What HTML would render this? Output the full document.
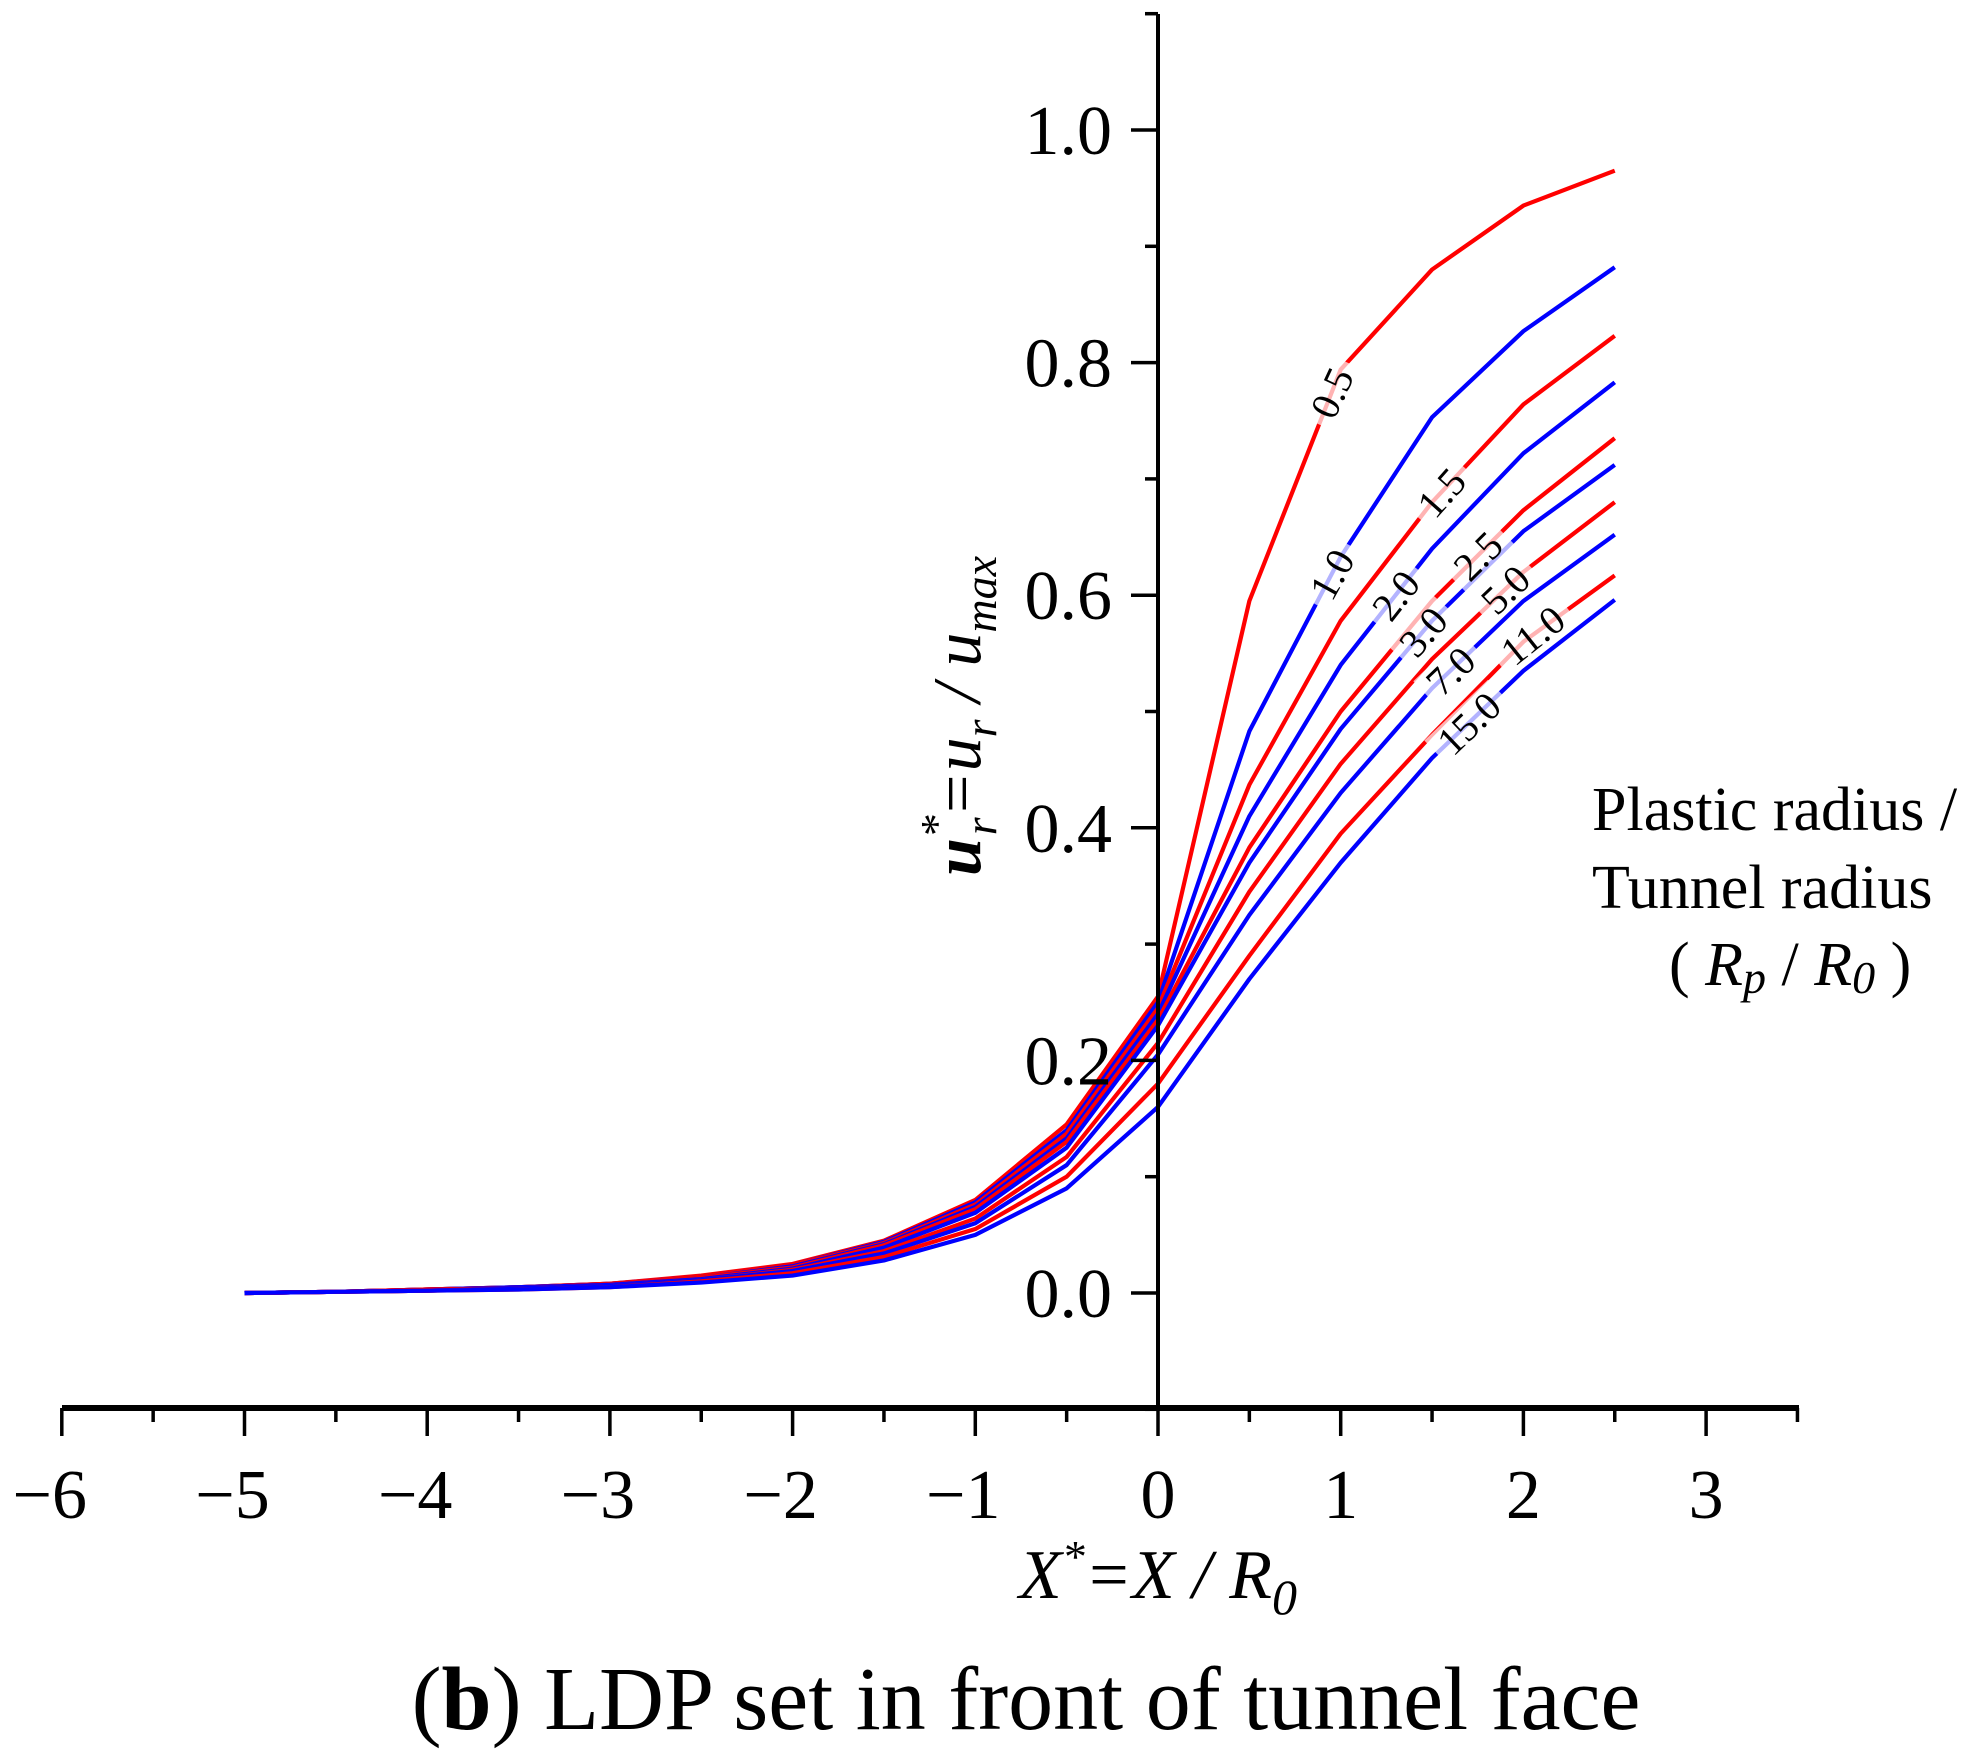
<!DOCTYPE html>
<html><head><meta charset="utf-8"><style>
html,body{margin:0;padding:0;background:#fff;}
svg{display:block;font-family:"Liberation Serif",serif;}
</style></head><body>
<svg id="chart" width="1986" height="1750" viewBox="0 0 1986 1750" xmlns="http://www.w3.org/2000/svg">
<g id="curves"></g>
<g id="labels"></g>
<g id="axes"></g>
<text x="1158" y="1598" font-size="70" font-style="italic" text-anchor="middle">X<tspan dy="-26" font-size="46">*</tspan><tspan dy="26">=X / R</tspan><tspan dy="16" font-size="50">0</tspan></text>
<text x="1026" y="1729" font-size="90" text-anchor="middle">(<tspan font-weight="bold">b</tspan>) LDP set in front of tunnel face</text>
<text transform="translate(980,716) rotate(-90)" font-size="68" font-style="italic" text-anchor="middle"><tspan font-weight="bold">u</tspan><tspan dy="-28" font-size="46">*</tspan><tspan dx="-20" dy="44" font-size="46">r</tspan><tspan dy="-16">=u</tspan><tspan dy="16" font-size="46">r</tspan><tspan dy="-16"> / u</tspan><tspan dy="16" font-size="46">max</tspan></text>
<g font-size="62">
<text x="1592" y="830">Plastic radius /</text>
<text x="1592" y="908">Tunnel radius</text>
<text x="1669" y="985">( <tspan font-style="italic">R</tspan><tspan font-style="italic" font-size="46" dy="8">p</tspan><tspan dy="-8"> / </tspan><tspan font-style="italic">R</tspan><tspan font-style="italic" font-size="46" dy="8">0</tspan><tspan dy="-8"> )</tspan></text>
</g>
</svg>
<script>
const xValues=[-5,-4.5,-4,-3.5,-3,-2.5,-2,-1.5,-1,-0.5,0,0.5,1,1.5,2,2.5];
const seriesNames=["0.5","1.0","1.5","2.0","2.5","3.0","5.0","7.0","11.0","15.0"];
const s05=[0,0.001,0.003,0.005,0.008,0.015,0.025,0.045,0.08,0.145,0.255,0.595,0.794,0.88,0.935,0.965];
const s10=[0,0.001,0.003,0.005,0.008,0.014,0.024,0.044,0.078,0.14,0.25,0.483,0.633,0.753,0.827,0.882];
const s15=[0,0.001,0.003,0.005,0.008,0.014,0.024,0.043,0.076,0.137,0.245,0.437,0.578,0.68,0.764,0.823];
const s20=[0,0.001,0.003,0.005,0.007,0.013,0.023,0.042,0.074,0.133,0.24,0.41,0.54,0.64,0.722,0.783];
const s25=[0,0.001,0.003,0.004,0.007,0.013,0.022,0.041,0.072,0.13,0.235,0.383,0.5,0.595,0.673,0.735];
const s30=[0,0.001,0.002,0.004,0.007,0.012,0.021,0.039,0.069,0.125,0.23,0.37,0.485,0.578,0.655,0.712];
const s50=[0,0.001,0.002,0.004,0.006,0.011,0.02,0.036,0.064,0.117,0.215,0.345,0.455,0.545,0.62,0.68];
const s70=[0,0.001,0.002,0.004,0.006,0.011,0.019,0.034,0.06,0.11,0.205,0.325,0.43,0.52,0.595,0.652];
const s110=[0,0.001,0.002,0.003,0.005,0.01,0.017,0.031,0.055,0.1,0.18,0.29,0.395,0.48,0.56,0.617];
const s150=[0,0.001,0.002,0.003,0.005,0.009,0.015,0.028,0.05,0.09,0.16,0.27,0.37,0.46,0.535,0.596];
const seriesData=[s05,s10,s15,s20,s25,s30,s50,s70,s110,s150];
const seriesColors=["#ff0000","#0000ff","#ff0000","#0000ff","#ff0000","#0000ff","#ff0000","#0000ff","#ff0000","#0000ff"];
const labelX=[0.95,0.95,1.55,1.3,1.75,1.45,1.9,1.6,2.05,1.7];
const xTicks=[-6,-5,-4,-3,-2,-1,0,1,2,3];
const yTicks=[0,0.2,0.4,0.6,0.8,1.0];
const yTickLabels=["0.0","0.2","0.4","0.6","0.8","1.0"];
const NS="http://www.w3.org/2000/svg";
const X0=1158, XU=182.7, Y0=1293, YU=1163;
function sx(v){return X0+v*XU;}
function sy(v){return Y0-v*YU;}
function mk(t,a,p){const e=document.createElementNS(NS,t);for(const k in a)e.setAttribute(k,a[k]);p.appendChild(e);return e;}
const cg=document.getElementById('curves');
seriesData.forEach((d,i)=>{
  const p=mk('polyline',{points:d.map((v,j)=>sx(xValues[j])+','+sy(v)).join(' '),fill:'none',stroke:seriesColors[i],'stroke-width':4.2,'stroke-linejoin':'round'},cg);
  
  
});
function interp(d,x){for(let j=0;j<xValues.length-1;j++){if(x>=xValues[j]&&x<=xValues[j+1]){const t=(x-xValues[j])/(xValues[j+1]-xValues[j]);return d[j]+t*(d[j+1]-d[j]);}}return d[d.length-1];}
const lg=document.getElementById('labels');
seriesData.forEach((d,i)=>{
  const x=labelX[i], y=interp(d,x);
  const y2=interp(d,x+0.1), y1=interp(d,x-0.1);
  const ang=Math.atan2(sy(y2)-sy(y1),sx(x+0.1)-sx(x-0.1))*180/Math.PI;
  const g=mk('g',{transform:`translate(${sx(x)},${sy(y)}) rotate(${ang})`},lg);
  
  
  const w=seriesNames[i].length*20+8;
  mk('rect',{x:-w/2,y:-18,width:w,height:36,fill:'#fff',opacity:0.7},g);
  const t=mk('text',{x:0,y:14,'font-size':40,'text-anchor':'middle'},g);
  t.textContent=seriesNames[i];
});
const ag=document.getElementById('axes');
const xa=mk('line',{x1:62,y1:1408,x2:1799,y2:1408,stroke:'#000','stroke-width':6},ag);

const ya=mk('line',{x1:X0,y1:14,x2:X0,y2:1408,stroke:'#000','stroke-width':4},ag);

for(let v=-6;v<=3.5;v+=0.5){const major=Number.isInteger(v);mk('line',{x1:sx(v),y1:1408,x2:sx(v),y2:1408+(major?28:14),stroke:'#000','stroke-width':3.5},ag);}
xTicks.forEach(v=>{const t=mk('text',{x:sx(v)+(v<0?-12:0),y:1518,'font-size':70,'text-anchor':'middle'},ag);t.textContent=(v<0?'\u2212':'')+Math.abs(v);
});
for(let k=-1;k<=11;k++){const v=k/10;const major=k%2===0&&k>=0;mk('line',{x1:X0,y1:sy(v),x2:X0-(major?27:13),y2:sy(v),stroke:'#000','stroke-width':3.5},ag);}
yTicks.forEach((v,i)=>{const t=mk('text',{x:1112,y:sy(v)+24,'font-size':70,'text-anchor':'end'},ag);t.textContent=yTickLabels[i];
});
</script>
</body></html>
